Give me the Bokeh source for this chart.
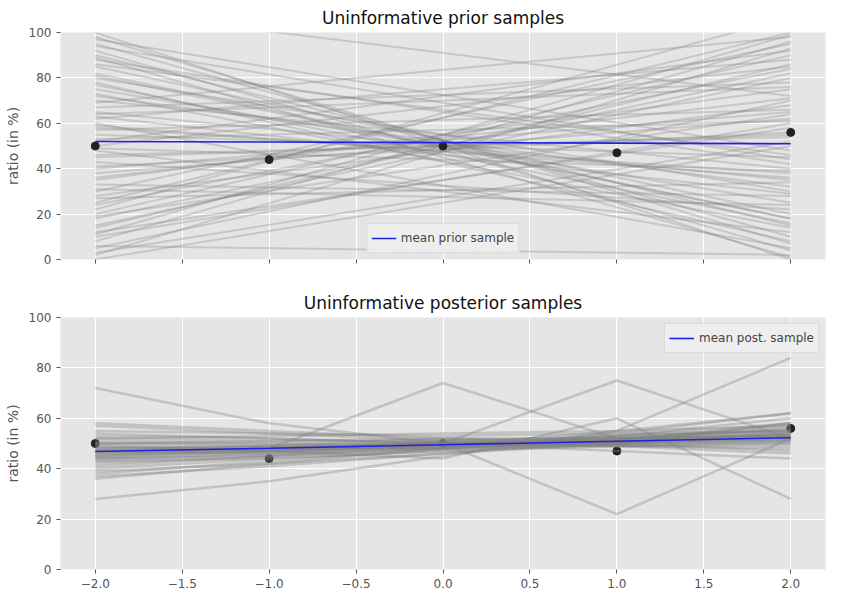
from bokeh.plotting import figure
from bokeh.layouts import column
from bokeh.models import FixedTicker, Range1d, Legend, LegendItem
from bokeh.embed import file_html
from bokeh.resources import INLINE

x_vals = [-2, -1, 0, 1, 2]
obs_y = [50, 44, 50, 47, 56]
prior_mean = [52.0, 51.75, 51.5, 51.25, 51.0]
post_mean = [46.8, 48.1, 49.5, 50.9, 52.3]

prior_start = [5,95,20,80,45,60,10,70,30,90,55,15,85,40,65,25,75,0,100,50,35,-20,120,12,88,48,62,28,72,8,
               92,38,58,18,82,3,97,43,67,22,78,52,33,110,-10,57,27,73,14,86,46,64,31,69,6,94,41,59,19,81,
               2,98,36,63,24,77,49,53,11,89]
prior_end = [70,10,90,30,55,5,60,40,95,15,45,80,20,65,35,100,25,50,0,85,75,-15,130,58,42,12,88,68,32,96,
             4,62,38,82,18,52,48,22,78,107,8,92,28,72,-5,66,34,14,86,46,54,76,24,98,2,44,56,36,64,18,
             93,7,71,29,84,16,39,61,99,1]

post_rows = [
 [47,48,50,51,52],[44,46,49,52,55],[50,50,50,51,51],[42,45,48,51,54],[52,51,51,50,50],
 [45,47,49,50,53],[48,49,49,52,53],[40,44,47,50,58],[54,52,50,49,48],[46,47,51,52,54],
 [43,46,48,52,56],[49,48,50,50,51],[38,43,48,53,60],[51,50,49,50,52],[47,49,52,51,53],
 [44,47,50,53,55],[50,49,48,51,54],[41,45,49,52,57],[53,52,50,49,49],[46,48,48,50,52],
 [72,58,50,47,44],[28,35,45,55,62],[47,48,74,52,53],[46,48,50,75,52],[48,49,50,22,52],
 [45,47,49,55,84],[49,47,44,60,28],[36,42,48,54,62],[58,55,52,50,47],[47,46,50,51,56],
 [43,44,47,49,50],[52,53,54,55,57],[45,48,51,53,58],[39,42,46,50,54],[55,54,53,54,55],
 [48,47,49,53,55],[44,45,48,49,51],[50,51,52,52,53],[37,41,46,51,58],[57,54,51,49,46],
]

BG = "#e5e5e5"
TICKS = [-2, -1.5, -1, -0.5, 0, 0.5, 1, 1.5, 2]

def base(title, h, xlabels):
    p = figure(width=835, height=h, output_backend="svg", toolbar_location=None,
               x_range=Range1d(-2.2, 2.2), y_range=Range1d(0, 100), title=title)
    p.background_fill_color = BG
    p.outline_line_color = None
    p.title.align = "center"
    p.title.text_font_size = "17px"
    p.title.text_font_style = "normal"
    p.title.text_font = "DejaVu Sans"
    p.title.text_color = "#111111"
    p.grid.grid_line_color = "white"
    p.grid.grid_line_width = 1
    p.xaxis.ticker = FixedTicker(ticks=TICKS)
    p.yaxis.ticker = FixedTicker(ticks=[0, 20, 40, 60, 80, 100])
    for ax in (p.xaxis[0], p.yaxis[0]):
        ax.axis_line_color = None
        ax.major_tick_line_color = "#555555"
        ax.minor_tick_line_color = None
        ax.major_tick_out = 4
        ax.major_tick_in = 0
        ax.major_label_text_color = "#555555"
        ax.major_label_text_font_size = "12px"
        ax.major_label_text_font = "DejaVu Sans"
    if xlabels:
        p.xaxis.major_label_overrides = {t: f"{t:.1f}".replace("-", "\u2212") for t in TICKS}
    else:
        p.xaxis.major_label_overrides = {t: " " for t in TICKS}
    p.yaxis.axis_label = "ratio (in %)"
    p.yaxis.axis_label_text_font_style = "normal"
    p.yaxis.axis_label_text_font_size = "14px"
    p.yaxis.axis_label_text_color = "#555555"
    p.yaxis.axis_label_text_font = "DejaVu Sans"
    p.min_border_left = 60
    p.min_border_right = 10
    return p

p1 = base("Uninformative prior samples", 285, False)
p1.multi_line([[-2, 2]] * len(prior_start), [[a, b] for a, b in zip(prior_start, prior_end)],
              line_color="#808080", line_alpha=0.3, line_width=2)
p1.scatter(x_vals, obs_y, size=8, color="#222222")
r1 = p1.line(x_vals, prior_mean, line_color="#2020e0", line_width=1.6)
leg1 = Legend(items=[LegendItem(label="mean prior sample", renderers=[r1])], location="bottom_center")

p2 = base("Uninformative posterior samples", 305, True)
p2.scatter(x_vals, obs_y, size=8, color="#222222")
p2.multi_line([x_vals] * len(post_rows), post_rows, line_color="#808080", line_alpha=0.35, line_width=2.5)
r2 = p2.line(x_vals, post_mean, line_color="#2020e0", line_width=1.6)
leg2 = Legend(items=[LegendItem(label="mean post. sample", renderers=[r2])], location="top_right")

for p, leg in ((p1, leg1), (p2, leg2)):
    leg.background_fill_color = "#eeeeee"
    leg.background_fill_alpha = 0.9
    leg.border_line_color = "#cccccc"
    leg.label_text_font_size = "12px"
    leg.label_text_font = "DejaVu Sans"
    leg.glyph_width = 25
    leg.padding = 4
    leg.spacing = 0
    leg.margin = 6
    p.add_layout(leg, "center")

layout = column(p1, p2, spacing=0)
open("out.html", "w").write(file_html(layout, INLINE))
